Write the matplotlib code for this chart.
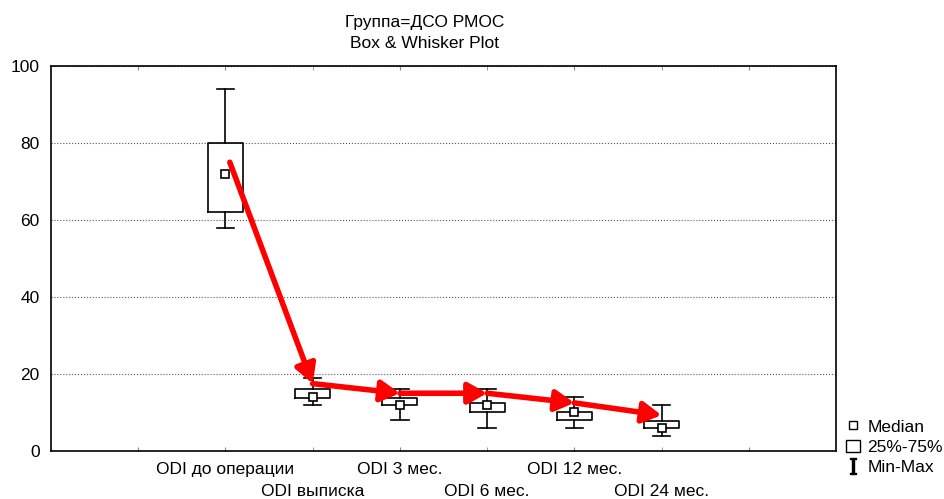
import matplotlib
matplotlib.use("Agg")
import matplotlib.pyplot as plt
from matplotlib.lines import Line2D
from matplotlib.patches import Patch

plt.rcParams['font.family'] = ['Liberation Sans', 'DejaVu Sans']
plt.rcParams['mathtext.fontset'] = 'dejavuserif'

# data
labels = ["ODI до операции", "ODI выписка", "ODI 3 мес.", "ODI 6 мес.",
          "ODI 12 мес.", "ODI 24 мес."]
medians = [72, 14, 12, 12, 10, 6]
q1 = [62, 13.8, 12, 10, 8, 6]
q3 = [80, 16, 13.8, 12.5, 10, 7.9]
mins = [58, 12, 8, 6, 6, 4]
maxs = [94, 19, 16, 16, 14, 12]

# red trend arrows drawn over the plot
trend_x = [1.05, 2, 3, 4, 5, 6]
trend_y = [75, 17.5, 15, 15, 12.5, 9.3]


def main():
    fig = plt.figure(figsize=(9.44, 4.99), dpi=100)
    ax = fig.add_axes([0.054, 0.0962, 0.8316, 0.7715])

    positions = list(range(1, len(labels) + 1))
    stats = []
    for i in range(len(labels)):
        stats.append(dict(med=medians[i], q1=q1[i], q3=q3[i],
                          whislo=mins[i], whishi=maxs[i]))
    ax.bxp(stats, positions=positions, widths=0.4, capwidths=0.2,
           showfliers=False,
           boxprops=dict(color='black', lw=1.2),
           whiskerprops=dict(color='black', lw=1.2),
           capprops=dict(color='black', lw=1.2),
           medianprops=dict(visible=False))
    ax.plot(positions, medians, ls='', marker='s', ms=6,
            mfc='white', mec='black', mew=1.2, zorder=3)

    # arrows between consecutive points
    for i in range(len(trend_x) - 1):
        ax.annotate("", xy=(trend_x[i + 1], trend_y[i + 1]),
                    xytext=(trend_x[i], trend_y[i]),
                    arrowprops=dict(arrowstyle='-|>,head_length=0.8,head_width=0.45',
                                    color='red', lw=4, mutation_scale=14,
                                    shrinkA=0, shrinkB=0),
                    zorder=4)

    ax.set_xlim(-1, 8)
    ax.set_ylim(0, 100)
    ax.set_yticks([0, 20, 40, 60, 80, 100])

    # labels alternate between two rows: odd ones on major ticks, even on minor
    major = [0] + positions[0::2] + [7]
    minor = positions[1::2]
    ax.set_xticks(major)
    ax.set_xticklabels([""] + labels[0::2] + [""], fontsize=12.5)
    ax.set_xticks(minor, minor=True)
    ax.set_xticklabels(labels[1::2], minor=True, fontsize=12.5)
    ax.tick_params(axis='x', which='both', direction='in', length=3, top=True,
                   color='#888888')
    ax.tick_params(axis='x', which='major', pad=8)
    ax.tick_params(axis='x', which='minor', pad=24)
    ax.tick_params(axis='y', length=0, labelsize=12.5, pad=8)
    ax.yaxis.grid(True, ls=':', color='#555555', lw=0.8)
    for sp in ax.spines.values():
        sp.set_linewidth(1.2)

    fig.text(425 / 944, 1 - 22 / 499, "Группа=ДСО РМОС", ha='center',
             va='center', fontsize=12.5)
    fig.text(425 / 944, 1 - 44 / 499, "Box & Whisker Plot", ha='center',
             va='center', fontsize=12.5)

    handles = [
        Line2D([], [], ls='', marker='s', ms=6, mfc='white', mec='black'),
        Patch(fc='white', ec='black'),
        Line2D([], [], ls='', marker=r'$\mathrm{I}$', ms=11, color='black'),
    ]
    ax.legend(handles, ["Median", "25%-75%", "Min-Max"], loc='lower left',
              bbox_to_anchor=(1.0, -0.09), frameon=False, fontsize=12.5,
              handlelength=0.8, handletextpad=0.4, labelspacing=0.3,
              borderaxespad=0.2)

    plt.savefig("out.png", dpi=100)


if __name__ == "__main__":
    main()
